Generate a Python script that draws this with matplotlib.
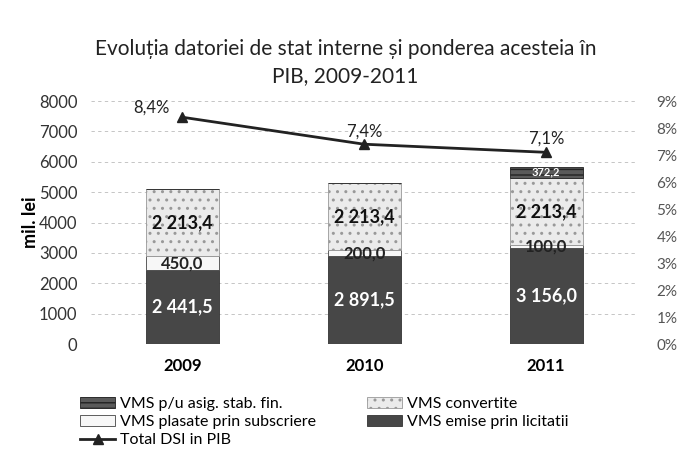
import matplotlib.pyplot as plt
import numpy as np

plt.rcParams['font.family'] = ['Lato', 'DejaVu Sans']

years = ["2009", "2010", "2011"]
licitatii = [2441.5, 2891.5, 3156.0]
subscriere = [450.0, 200.0, 100.0]
convertite = [2213.4, 2213.4, 2213.4]
stab_fin = [0.0, 0.0, 372.2]
dsi_pib = [8.4, 7.4, 7.1]


def fmt(v):
    s = f"{v:,.1f}".replace(",", " ").replace(".", ",")
    return s


fig = plt.figure(figsize=(6.91, 4.72), dpi=100)
ax = fig.add_axes([0.132, 0.271, 0.79, 0.515])
x = np.arange(len(years))
w = 0.4

b1 = ax.bar(x, licitatii, w, color="#474747", edgecolor="#333333", lw=0.6,
            label="VMS emise prin licitatii")
bot = np.array(licitatii)
b2 = ax.bar(x, subscriere, w, bottom=bot, color="#f7f7f7", edgecolor="#444444", lw=0.6,
            label="VMS plasate prin subscriere")
bot = bot + np.array(subscriere)
b3 = ax.bar(x, convertite, w, bottom=bot, color="#ebebeb", edgecolor="#999999", lw=0.6,
            hatch="..", label="VMS convertite")
bot2 = bot + np.array(convertite)
b4 = ax.bar(x, stab_fin, w, bottom=bot2, color="#5a5a5a", edgecolor="#222222", lw=0.6,
            hatch="---", label="VMS p/u asig. stab. fin.")

for i in range(len(years)):
    ax.text(x[i], licitatii[i] / 2, fmt(licitatii[i]), ha="center", va="center",
            color="white", fontsize=13, fontweight="bold")
    ax.text(x[i], licitatii[i] + subscriere[i] / 2, fmt(subscriere[i]), ha="center",
            va="center", color="#222222", fontsize=12, fontweight="bold")
    ax.text(x[i], bot[i] + convertite[i] / 2, fmt(convertite[i]), ha="center",
            va="center", color="#111111", fontsize=13, fontweight="bold")
    if stab_fin[i] > 0:
        ax.text(x[i], bot2[i] + stab_fin[i] / 2, fmt(stab_fin[i]), ha="center",
                va="center", color="white", fontsize=8, fontweight="bold")

ax.set_ylim(0, 8000)
ax.set_xlim(-0.5, 2.5)
ax.set_yticks(range(0, 8001, 1000))
ax.tick_params(axis="y", labelsize=12, length=0, colors="#333333", pad=10)
ax.set_xticks(x)
ax.set_xticklabels(years, fontsize=12, fontweight="bold")
ax.tick_params(axis="x", length=0, pad=10)
ax.grid(axis="y", color="#bbbbbb", ls=(0, (4, 4)), lw=0.6)
ax.set_axisbelow(True)
for s in ax.spines.values():
    s.set_visible(False)
ax.set_ylabel("mil. lei", fontsize=13, fontweight="bold", labelpad=0)

ax2 = ax.twinx()
ln, = ax2.plot(x, dsi_pib, color="#222222", lw=2, marker="^", markersize=7,
               label="Total DSI in PIB")
ax2.set_ylim(0, 9)
ax2.set_yticks(range(0, 10))
ax2.set_yticklabels([f"{v}%" for v in range(0, 10)])
ax2.tick_params(axis="y", labelsize=11, length=0, colors="#555555", pad=14)
for s in ax2.spines.values():
    s.set_visible(False)
offs = [(-0.17, 0.35), (0, 0.45), (0, 0.5)]
for i, v in enumerate(dsi_pib):
    ax2.text(x[i] + offs[i][0], v + offs[i][1], f"{v:.1f}%".replace(".", ","),
             ha="center", va="center", fontsize=12, color="#222222")

fig.text(0.5, 0.868, "Evoluția datoriei de stat interne și ponderea acesteia în\nPIB, 2009-2011",
         ha="center", va="center", fontsize=15, linespacing=1.45, color="#222222")

handles = [b4, b2, ln, b3, b1]
fig.legend(handles=handles, labels=[h.get_label() for h in handles], ncol=2,
           loc="upper left", bbox_to_anchor=(0.095, 0.19), frameon=False,
           fontsize=11.5, handlelength=2.2, columnspacing=3.2, labelspacing=0.25,
           handletextpad=0.3)

fig.savefig("out.png", dpi=100)
